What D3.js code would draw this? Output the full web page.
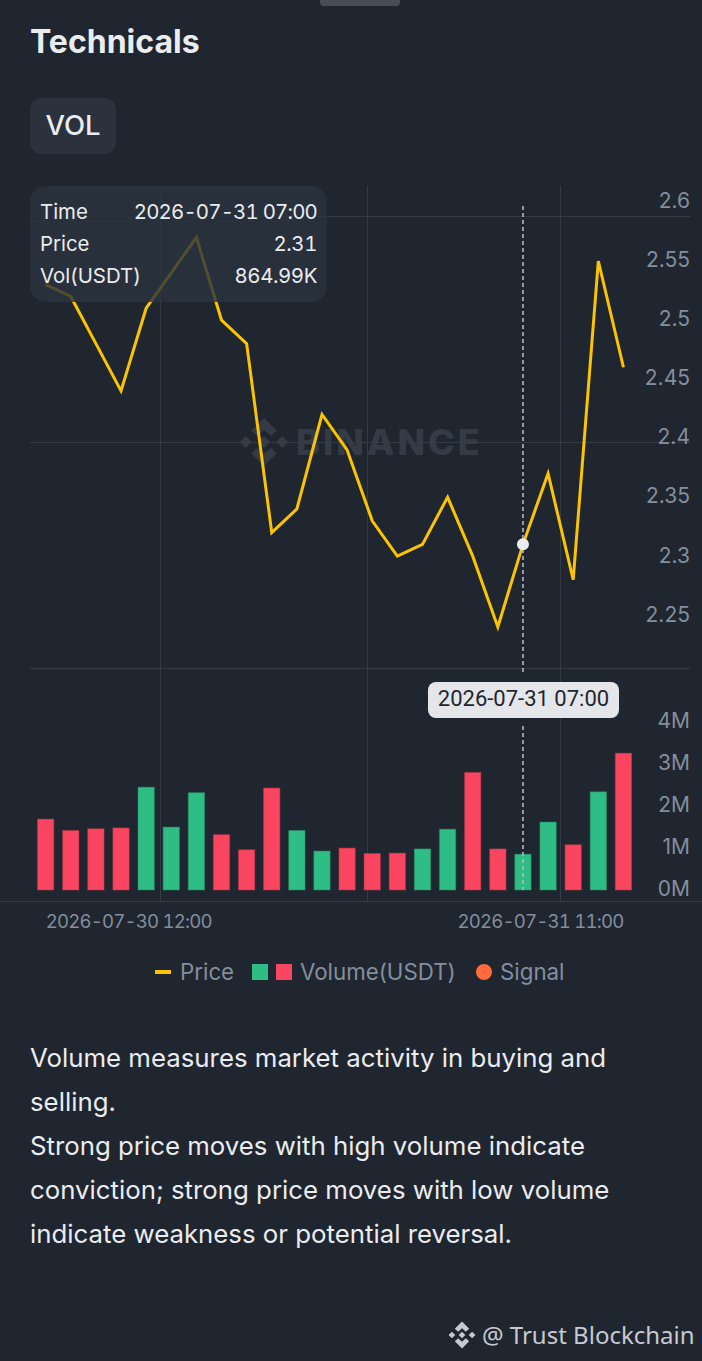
<!DOCTYPE html>
<html>
<head>
<meta charset="utf-8">
<title>Technicals</title>
<script src="https://cdn.jsdelivr.net/npm/d3@7"></script>
<style>
  html, body { margin: 0; padding: 0; background: #1f2630; }
  svg { display: block; font-family: Inter, sans-serif; }
  .tnum { font-variant-numeric: tabular-nums; font-feature-settings: "tnum"; }
</style>
</head>
<body>
<div id="chart"></div>
<script>
const times = [
  '2026-07-30 12:00', '2026-07-30 13:00', '2026-07-30 14:00', '2026-07-30 15:00',
  '2026-07-30 16:00', '2026-07-30 17:00', '2026-07-30 18:00', '2026-07-30 19:00',
  '2026-07-30 20:00', '2026-07-30 21:00', '2026-07-30 22:00', '2026-07-30 23:00',
  '2026-07-31 00:00', '2026-07-31 01:00', '2026-07-31 02:00', '2026-07-31 03:00',
  '2026-07-31 04:00', '2026-07-31 05:00', '2026-07-31 06:00', '2026-07-31 07:00',
  '2026-07-31 08:00', '2026-07-31 09:00', '2026-07-31 10:00', '2026-07-31 11:00'
];
const prices = [2.53, 2.52, 2.48, 2.44, 2.51, 2.54, 2.57, 2.5, 2.48, 2.32, 2.34, 2.42,
  2.39, 2.33, 2.3, 2.31, 2.35, 2.3, 2.24, 2.31, 2.37, 2.28, 2.55, 2.46];
const volumes = [1.7, 1.43, 1.47, 1.49, 2.46, 1.51, 2.33, 1.33, 0.97, 2.44, 1.43, 0.94,
  1.01, 0.88, 0.89, 0.99, 1.46, 2.81, 0.99, 0.865, 1.63, 1.09, 2.35, 3.27];
const directions = ['d', 'd', 'd', 'd', 'u', 'u', 'u', 'd', 'd', 'd', 'u', 'u',
  'd', 'd', 'd', 'u', 'u', 'd', 'd', 'u', 'u', 'd', 'u', 'd'];
const priceTicks = [2.25, 2.3, 2.35, 2.4, 2.45, 2.5, 2.55, 2.6];
const volumeTicks = [0, 1, 2, 3, 4];
const tooltipRows = [['Time', '2026-07-31 07:00'], ['Price', '2.31'], ['Vol(USDT)', '864.99K']];
const bodyLines = [
  'Volume measures market activity in buying and',
  'selling.',
  'Strong price moves with high volume indicate',
  'conviction; strong price moves with low volume',
  'indicate weakness or potential reversal.'
];

const WIDTH = 702, HEIGHT = 1361;
const BG = '#1f2630', GRID = '#343b47', MUTED = '#848e9c', LIGHT = '#eaecef', PANEL = '#2b323d';
const UP = '#2ebd85', DOWN = '#f94560', YELLOW = '#fcc400';
const ACTIVE = 19;

const svg = d3.select('#chart').append('svg')
  .attr('width', WIDTH).attr('height', HEIGHT)
  .attr('viewBox', `0 0 ${WIDTH} ${HEIGHT}`);

const x = d3.scaleBand().domain(times).range([33.1, 636]).paddingInner(0.31).paddingOuter(0.155);
const cx = t => x(t) + x.bandwidth() / 2;
const yPrice = d3.scaleLinear().domain([2.24, 2.6]).range([627, 202]);
const yVol = d3.scaleLinear().domain([0, 4]).range([890, 722]);

// sheet handle, title, indicator tab
svg.append('rect').attr('x', 320).attr('y', -6).attr('width', 80).attr('height', 12).attr('rx', 4).attr('fill', '#474d57');
svg.append('text').attr('x', 30).attr('y', 53).attr('fill', LIGHT)
  .style('font-size', '32px').style('font-weight', 650).text('Technicals');
svg.append('rect').attr('x', 30).attr('y', 98).attr('width', 86).attr('height', 56).attr('rx', 12).attr('fill', PANEL);
svg.append('text').attr('x', 73).attr('y', 135).attr('text-anchor', 'middle').attr('fill', LIGHT)
  .style('font-size', '27.5px').style('font-weight', 500).text('VOL');

// grid
const grid = svg.append('g').attr('stroke', GRID).attr('stroke-width', 1);
[216.5, 442.5, 668.5].forEach(y => grid.append('line').attr('x1', 30).attr('x2', 690).attr('y1', y).attr('y2', y));
grid.append('line').attr('x1', 0).attr('x2', WIDTH).attr('y1', 901.5).attr('y2', 901.5);
[160.5, 367.5, 560.5].forEach(v => grid.append('line').attr('x1', v).attr('x2', v).attr('y1', 186).attr('y2', 901));

// Binance mark: four diamonds around a centre one
function logo(parent, tx, ty, s, fill) {
  const g = parent.append('g').attr('transform', `translate(${tx},${ty}) scale(${s})`).attr('fill', fill);
  g.append('path').attr('d', 'M0,-2.8L2.8,0L0,2.8L-2.8,0Z');
  g.append('path').attr('d', 'M-8.4,-2.8L-5.6,0L-8.4,2.8L-11.2,0Z');
  g.append('path').attr('d', 'M8.4,-2.8L11.2,0L8.4,2.8L5.6,0Z');
  g.append('path').attr('d', 'M0,-11.2L6,-5.2L3.2,-2.8L0,-5.6L-3.2,-2.8L-6,-5.2Z');
  g.append('path').attr('d', 'M0,11.2L6,5.2L3.2,2.8L0,5.6L-3.2,2.8L-6,5.2Z');
}
logo(svg, 264, 442, 2.15, '#343b47');
svg.append('text').attr('x', 296).attr('y', 455).attr('fill', '#343b47')
  .style('font-size', '36px').style('font-weight', 800).style('letter-spacing', '3px').text('BINANCE');

// volume bars
svg.append('g').selectAll('rect').data(times).join('rect')
  .attr('x', d => x(d) + 0.5)
  .attr('y', (d, i) => yVol(volumes[i]) + 0.5)
  .attr('width', x.bandwidth() - 1)
  .attr('height', (d, i) => yVol(0) - yVol(volumes[i]) - 0.5)
  .attr('fill', (d, i) => directions[i] === 'u' ? UP : DOWN)
  .attr('stroke', (d, i) => d3.color(directions[i] === 'u' ? UP : DOWN).darker(0.8).formatHex())
  .attr('stroke-opacity', 0.5);

// price line
const line = d3.line().x((d, i) => cx(times[i])).y(d => yPrice(d));
svg.append('path').datum(prices).attr('d', line)
  .attr('fill', 'none').attr('stroke', YELLOW).attr('stroke-width', 3).attr('stroke-linejoin', 'miter');

// axis labels
svg.append('g').selectAll('text').data(priceTicks).join('text')
  .attr('x', 690).attr('y', d => yPrice(d) - 1).attr('dy', '0.35em').attr('text-anchor', 'end')
  .attr('fill', MUTED).style('font-size', '21px').text(d => String(d));
svg.append('g').selectAll('text').data(volumeTicks).join('text')
  .attr('x', 690).attr('y', d => yVol(d) - 1).attr('dy', '0.35em').attr('text-anchor', 'end')
  .attr('fill', MUTED).style('font-size', '21px').text(d => d + 'M');
svg.append('text').attr('class', 'tnum').attr('x', cx(times[0])).attr('y', 928).attr('fill', MUTED)
  .style('font-size', '18.6px').style('letter-spacing', '-0.8px').text(times[0]);
svg.append('text').attr('class', 'tnum').attr('x', cx(times[23])).attr('y', 928).attr('text-anchor', 'end').attr('fill', MUTED)
  .style('font-size', '18.6px').style('letter-spacing', '-0.8px').text(times[23]);

// crosshair, broken around the time label
const crossX = cx(times[ACTIVE]);
[[206, 674], [726, 890]].forEach(([a, b]) => {
  svg.append('line').attr('x1', crossX).attr('x2', crossX).attr('y1', a).attr('y2', b)
    .attr('stroke', '#b4b8bf').attr('stroke-width', 1.6).attr('stroke-dasharray', '4 3');
});
svg.append('circle').attr('cx', crossX).attr('cy', yPrice(prices[ACTIVE])).attr('r', 6).attr('fill', '#eaecef');

// time label
svg.append('rect').attr('x', 428).attr('y', 682).attr('width', 191).attr('height', 36).attr('rx', 8).attr('fill', '#e4e6ea');
svg.append('text').attr('x', 523.5).attr('y', 706).attr('text-anchor', 'middle').attr('fill', '#1f2630')
  .style('font-family', 'Roboto, sans-serif').style('font-size', '22px').text(times[ACTIVE]);

// tooltip
svg.append('rect').attr('x', 30).attr('y', 186).attr('width', 297).attr('height', 116).attr('rx', 16)
  .attr('fill', '#2b333e').attr('fill-opacity', 0.82);
tooltipRows.forEach(([k, v], i) => {
  const y = 219 + i * 32;
  svg.append('text').attr('x', 40).attr('y', y).attr('fill', LIGHT).style('font-size', '20.4px').text(k);
  svg.append('text').attr('class', 'tnum').attr('x', 317).attr('y', y).attr('text-anchor', 'end').attr('fill', LIGHT)
    .style('font-size', '20.4px').style('letter-spacing', i === 0 ? '-0.8px' : '-0.4px').text(v);
});

// legend
const legend = svg.append('g');
legend.append('rect').attr('x', 155).attr('y', 970).attr('width', 16).attr('height', 4).attr('fill', YELLOW);
legend.append('rect').attr('x', 252).attr('y', 964).attr('width', 16).attr('height', 16).attr('fill', UP);
legend.append('rect').attr('x', 276).attr('y', 964).attr('width', 16).attr('height', 16).attr('fill', DOWN);
legend.append('circle').attr('cx', 484).attr('cy', 972).attr('r', 8).attr('fill', '#ff6b3d');
[['Price', 180], ['Volume(USDT)', 300], ['Signal', 500]].forEach(([label, lx]) => {
  legend.append('text').attr('x', lx).attr('y', 980).attr('fill', MUTED).style('font-size', '22.3px').text(label);
});

// description
svg.append('g').selectAll('text').data(bodyLines).join('text')
  .attr('x', 30).attr('y', (d, i) => 1067 + i * 44).attr('fill', LIGHT)
  .style('font-size', '25.8px').text(d => d);

// footer watermark
logo(svg, 462, 1335, 1.2, '#c6cad0');
svg.append('text').attr('x', 482).attr('y', 1344).attr('fill', '#c6cad0')
  .style('font-family', '"Noto Sans", sans-serif').style('font-size', '24px').text('@ Trust Blockchain');
</script>
</body>
</html>
